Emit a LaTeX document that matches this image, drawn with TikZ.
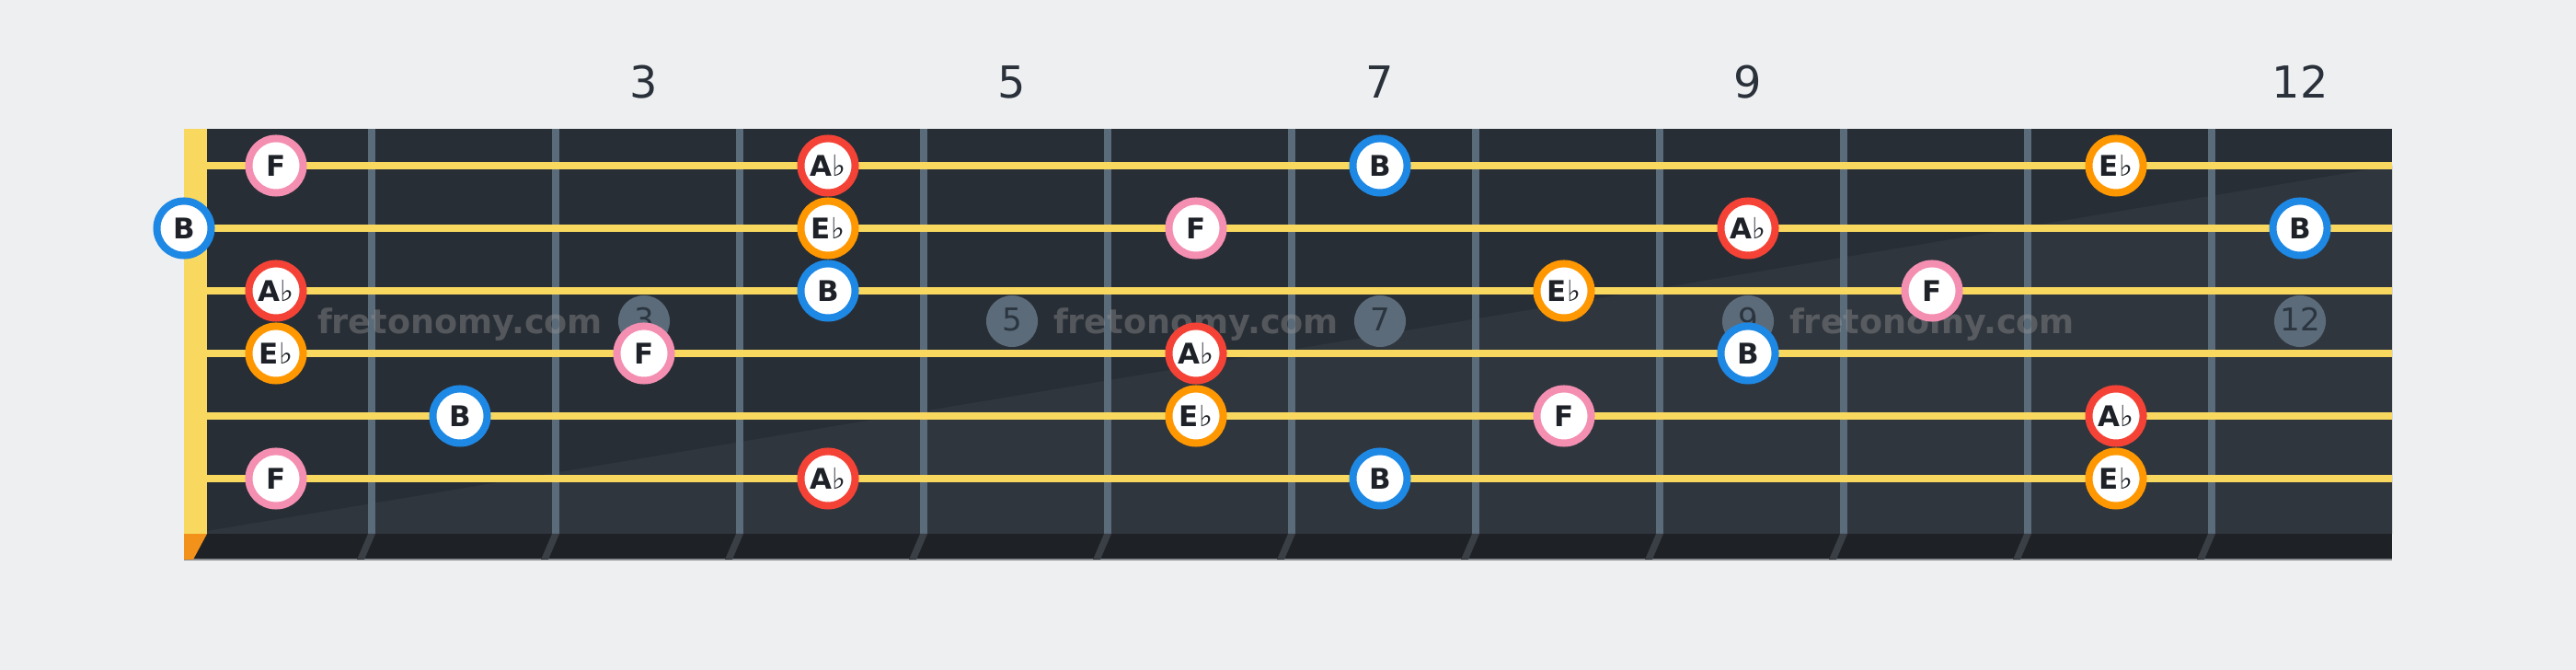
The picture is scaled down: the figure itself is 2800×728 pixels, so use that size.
\documentclass[tikz,border=0pt]{standalone}
\usepackage{fontspec}
\setmainfont{DejaVu Sans}
\newfontfamily\flatfont{DejaVu Sans}
\definecolor{bgc}{HTML}{EEEFF1}
\definecolor{boardA}{HTML}{282E36}
\definecolor{boardB}{HTML}{30363E}
\definecolor{stripc}{HTML}{1E2226}
\definecolor{stripline}{HTML}{8A8D91}
\definecolor{fretc}{HTML}{5A6B7A}
\definecolor{fretslant}{HTML}{3A3F45}
\definecolor{stringc}{HTML}{F9D860}
\definecolor{cornerc}{HTML}{F2921A}
\definecolor{inlayc}{HTML}{5B6B79}
\definecolor{inlaytxt}{HTML}{2B3540}
\definecolor{labelc}{HTML}{2A313A}
\definecolor{notetxt}{HTML}{1E2228}
\definecolor{wmc}{HTML}{969696}
\definecolor{cF}{HTML}{F48FB1}
\definecolor{cB}{HTML}{1E88E5}
\definecolor{cA}{HTML}{F44336}
\definecolor{cE}{HTML}{FF9800}
\newcommand{\flt}{{\flatfont\fontsize{9pt}{9pt}\selectfont\char"266D}}
\tikzset{
  notebase/.style={circle, fill=white, line width=0.08cm, minimum size=0.59cm, inner sep=0pt,
    font=\bfseries\fontsize{8.8pt}{8.8pt}\selectfont, text=notetxt, text height=6.4pt, text depth=0pt},
  noteF/.style={notebase, draw=cF},
  noteB/.style={notebase, draw=cB},
  noteA/.style={notebase, draw=cA},
  noteE/.style={notebase, draw=cE},
  inlay/.style={circle, fill=inlayc, minimum size=0.56cm, inner sep=0pt},
  inlaynum/.style={anchor=base, inner sep=0pt, text=inlaytxt, font=\fontsize{9.7pt}{9.7pt}\selectfont},
  fretlabel/.style={anchor=base, inner sep=0pt, text=labelc, font=\fontsize{13.6pt}{13.6pt}\selectfont},
  watermark/.style={anchor=base, inner sep=0pt, text=wmc, text opacity=0.4, font=\bfseries\fontsize{10.4pt}{10.4pt}\selectfont},
  stringline/.style={draw=stringc, line width=0.08cm},
}
\begin{document}
\begin{tikzpicture}[x=0.01cm, y=-0.01cm]
\useasboundingbox (0,0) rectangle (2800,728);
\fill[bgc] (0,0) rectangle (2800,728);
% board
\fill[boardA] (200,140) rectangle (2600,580);
\fill[boardB] (225,577) -- (2600,180) -- (2600,580) -- (225,580) -- cycle;
% bottom edge strip
\fill[stripc] (200,580) rectangle (2600,608);
\draw[stripline, line width=0.015cm] (200,608) -- (2600,608);
\fill[cornerc] (200,580) -- (225,580) -- (210,608) -- (200,608) -- cycle;
% nut
\fill[stringc] (200,140) rectangle (225,580);
% frets
\foreach \k in {1,...,11}{
  \pgfmathsetmacro{\fx}{200*\k+200}
  \fill[fretc] (\fx,140) rectangle (\fx+8,580);
  \fill[fretslant] (\fx,580) -- (\fx+8,580) -- (\fx-4,608) -- (\fx-12,608) -- cycle;
}
% inlays
\foreach \n/\ix in {3/700,5/1100,7/1500,9/1900,12/2500}{
  \node[inlay] (dot\n) at (\ix,349) {};
  \node[inlaynum] (dotnum\n) at (\ix,360) {\n};
}
% watermarks
\foreach \i/\wx in {1/500,2/1300,3/2100}{
  \node[watermark] (wm\i) at (\wx,363) {fretonomy.com};
}
% fret labels
\foreach \n/\ix in {3/700,5/1100,7/1500,9/1900,12/2500}{
  \node[fretlabel] (lab\n) at (\ix,107) {\n};
}
% strings
\foreach \s/\sy in {1/180,2/248,3/316,4/384,5/452,6/520}{
  \coordinate (s\s a) at (225,\sy);
  \coordinate (s\s b) at (2600,\sy);
  \draw[stringline] (s\s a) -- (s\s b);
}
% notes string 1
\node[noteF] (n1a) at (300,180) {F};
\node[noteA] (n1b) at (900,180) {A\flt};
\node[noteB] (n1c) at (1500,180) {B};
\node[noteE] (n1d) at (2300,180) {E\flt};
% string 2
\node[noteB] (n2a) at (200,248) {B};
\node[noteE] (n2b) at (900,248) {E\flt};
\node[noteF] (n2c) at (1300,248) {F};
\node[noteA] (n2d) at (1900,248) {A\flt};
\node[noteB] (n2e) at (2500,248) {B};
% string 3
\node[noteA] (n3a) at (300,316) {A\flt};
\node[noteB] (n3b) at (900,316) {B};
\node[noteE] (n3c) at (1700,316) {E\flt};
\node[noteF] (n3d) at (2100,316) {F};
% string 4
\node[noteE] (n4a) at (300,384) {E\flt};
\node[noteF] (n4b) at (700,384) {F};
\node[noteA] (n4c) at (1300,384) {A\flt};
\node[noteB] (n4d) at (1900,384) {B};
% string 5
\node[noteB] (n5a) at (500,452) {B};
\node[noteE] (n5b) at (1300,452) {E\flt};
\node[noteF] (n5c) at (1700,452) {F};
\node[noteA] (n5d) at (2300,452) {A\flt};
% string 6
\node[noteF] (n6a) at (300,520) {F};
\node[noteA] (n6b) at (900,520) {A\flt};
\node[noteB] (n6c) at (1500,520) {B};
\node[noteE] (n6d) at (2300,520) {E\flt};
\end{tikzpicture}
\end{document}
